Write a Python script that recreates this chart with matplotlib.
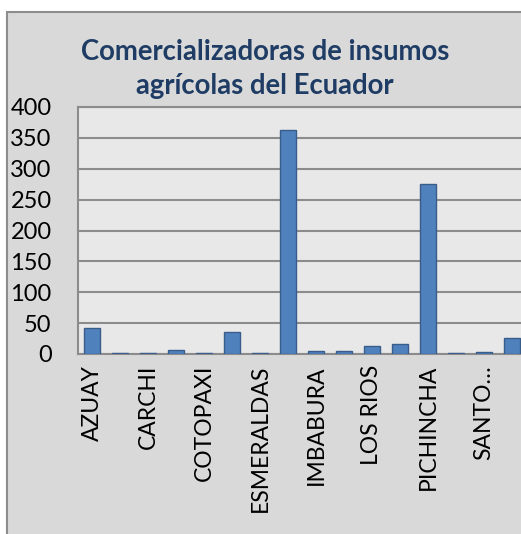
import matplotlib.pyplot as plt
from matplotlib.patches import Rectangle

provincias = ['AZUAY', 'CAÑAR', 'CARCHI', 'CHIMBORAZO', 'COTOPAXI', 'EL ORO',
              'ESMERALDAS', 'GUAYAS', 'IMBABURA', 'LOJA', 'LOS RIOS', 'MANABI',
              'PICHINCHA', 'SANTA ELENA', 'SANTO…', 'TUNGURAHUA']
comercializadoras = [42, 2, 1, 7, 2, 35, 1, 362, 5, 5, 13, 17, 276, 1, 4, 26]

plt.rcParams['font.family'] = ['Lato', 'DejaVu Sans']

fig = plt.figure(figsize=(5.21, 5.34), dpi=100)

# chart area (cropped on the right and bottom like the screenshot)
fig.patches.append(Rectangle((7 / 521, -0.1), 1.2, 1 - 12 / 534 + 0.1,
                             transform=fig.transFigure, facecolor='#d9d9d9',
                             edgecolor='#8c8c8c', linewidth=1.5, zorder=-1))

# plot area extends past the right edge
ax = fig.add_axes([78 / 521, 1 - 354 / 534, 17 * 28 / 521, (354 - 107) / 534])
ax.set_zorder(1)
ax.set_facecolor('#e8e8e8')
x = list(range(len(provincias)))
ax.bar(x, comercializadoras, width=0.6, color='#4f81bd', edgecolor='#385d8a',
       linewidth=1, zorder=3)

ax.set_xlim(-0.5, 16.5)
ax.set_ylim(0, 400)
ax.set_yticks(range(0, 401, 50))
ax.grid(axis='y', color='#8c8c8c', linewidth=1.5, zorder=1)
ax.set_xticks(x[::2])
ax.set_xticklabels(provincias[::2], rotation=90, fontsize=16.5)
ax.tick_params(axis='y', labelsize=17, length=0, pad=19)
ax.tick_params(axis='x', length=0, pad=8)
for s in ax.spines.values():
    s.set_color('#8c8c8c')
    s.set_linewidth(1.5)

fig.text(265 / 521, 1 - 69 / 534, 'Comercializadoras de insumos\nagrícolas del Ecuador',
         ha='center', va='center', fontsize=19.8, fontweight='bold',
         color='#1f3c64', linespacing=1.38)

fig.savefig('out.png', dpi=100)
